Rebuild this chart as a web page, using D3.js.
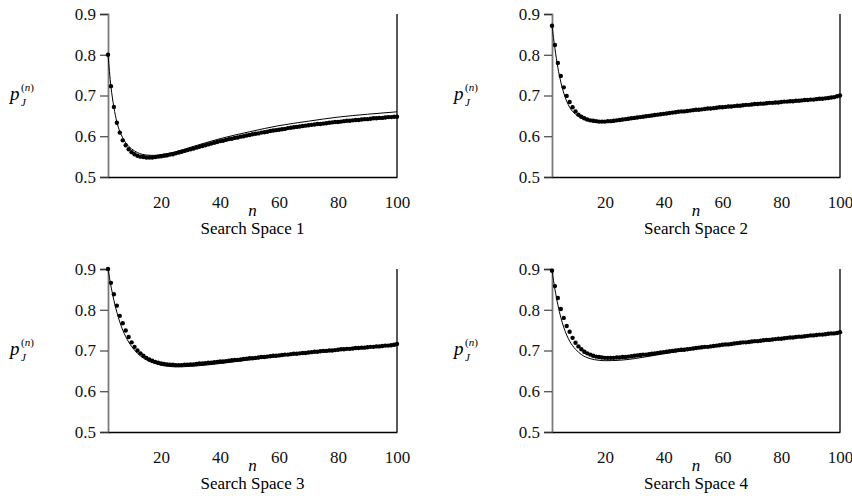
<!DOCTYPE html>
<html><head><meta charset="utf-8">
<script src="https://cdn.jsdelivr.net/npm/d3@7/dist/d3.min.js"></script>
<style>body{margin:0;background:#fff}svg{display:block}</style>
</head><body><svg id="c" width="852" height="496"></svg>
<script>
// n values: dots are drawn for n = 2..100
const nStart = 2, nEnd = 100;
const xTicks = [20, 40, 60, 80, 100];
const yTicks = [0.5, 0.6, 0.7, 0.8, 0.9];
const titles = ["Search Space 1", "Search Space 2", "Search Space 3", "Search Space 4"];

// simulated (dots), n = 2..100
const dots1 = [0.800,0.723,0.672,0.633,0.609,0.590,0.578,0.568,0.561,0.556,0.552,0.550,0.549,0.548,0.548,0.548,0.549,0.550,0.551,
 0.552,0.553,0.555,0.556,0.558,0.560,0.562,0.564,0.566,0.568,
 0.570,0.572,0.574,0.576,0.578,0.580,0.582,0.584,0.586,0.588,
 0.589,0.591,0.593,0.594,0.596,0.597,0.599,0.600,0.602,0.603,
 0.605,0.606,0.607,0.609,0.610,0.611,0.613,0.614,0.615,0.616,
 0.617,0.618,0.620,0.621,0.622,0.623,0.624,0.625,0.626,0.627,
 0.628,0.629,0.630,0.630,0.631,0.632,0.633,0.634,0.635,0.635,
 0.636,0.637,0.638,0.638,0.639,0.640,0.640,0.641,0.642,0.642,
 0.643,0.644,0.644,0.645,0.645,0.646,0.647,0.647,0.648,0.648];
const dots2 = [0.871,0.824,0.780,0.748,0.720,0.699,0.684,0.671,0.661,0.653,
 0.648,0.644,0.641,0.639,0.638,0.637,0.636,0.636,0.636,
 0.637,0.637,0.638,0.639,0.640,0.641,0.642,0.643,0.644,0.645,
 0.646,0.647,0.648,0.649,0.650,0.651,0.652,0.653,0.654,0.655,
 0.656,0.657,0.658,0.659,0.660,0.661,0.661,0.662,0.663,0.664,
 0.665,0.665,0.666,0.667,0.668,0.668,0.669,0.670,0.671,0.671,
 0.672,0.673,0.673,0.674,0.675,0.675,0.676,0.677,0.677,0.678,
 0.679,0.679,0.680,0.680,0.681,0.682,0.682,0.683,0.683,0.684,
 0.685,0.685,0.686,0.686,0.687,0.687,0.688,0.689,0.689,0.690,
 0.690,0.691,0.692,0.692,0.693,0.694,0.695,0.696,0.698,0.700];
const dots3 = [0.900,0.866,0.838,0.810,0.785,0.767,0.749,0.733,0.720,
 0.709,0.700,0.693,0.687,0.682,0.678,0.675,0.672,0.670,0.668,
 0.667,0.666,0.665,0.665,0.664,0.664,0.664,0.665,0.665,0.666,
 0.666,0.667,0.668,0.668,0.669,0.670,0.670,0.671,0.672,0.673,
 0.673,0.674,0.675,0.676,0.677,0.677,0.678,0.679,0.680,0.681,
 0.681,0.682,0.683,0.684,0.684,0.685,0.686,0.687,0.687,0.688,
 0.689,0.690,0.690,0.691,0.692,0.692,0.693,0.694,0.694,0.695,
 0.696,0.697,0.697,0.698,0.699,0.699,0.700,0.700,0.701,0.702,
 0.703,0.703,0.704,0.704,0.705,0.706,0.706,0.707,0.707,0.708,
 0.709,0.709,0.710,0.710,0.711,0.712,0.712,0.713,0.714,0.716];
const dots4 = [0.896,0.858,0.829,0.802,0.780,0.760,0.746,0.731,0.719,
 0.710,0.703,0.697,0.693,0.690,0.687,0.685,0.684,0.683,0.682,
 0.682,0.682,0.682,0.683,0.683,0.684,0.684,0.685,0.686,0.687,
 0.688,0.689,0.690,0.690,0.691,0.692,0.693,0.694,0.695,0.696,
 0.697,0.698,0.699,0.700,0.701,0.702,0.702,0.703,0.704,0.705,
 0.706,0.707,0.708,0.709,0.709,0.710,0.711,0.712,0.713,0.714,
 0.715,0.715,0.716,0.717,0.718,0.719,0.720,0.720,0.721,0.722,
 0.723,0.723,0.724,0.725,0.726,0.726,0.727,0.728,0.729,0.729,
 0.730,0.731,0.732,0.732,0.733,0.734,0.734,0.735,0.736,0.737,
 0.737,0.738,0.739,0.739,0.740,0.741,0.742,0.742,0.743,0.745];

// analytical curves (solid lines)
const lineN  = [2,3,4,5,6,7,8,10,12,15,18,20,25,30,40,50,60,70,80,90,100];
const line1 = [0.800,0.722,0.671,0.635,0.612,0.596,0.584,0.569,0.560,0.554,0.553,0.555,0.562,0.573,0.594,0.611,0.626,0.637,0.647,0.654,0.660];
const line2 = [0.871,0.815,0.768,0.733,0.706,0.686,0.671,0.654,0.644,0.637,0.634,0.634,0.637,0.643,0.654,0.663,0.671,0.678,0.685,0.692,0.699];
const line3 = [0.900,0.858,0.823,0.794,0.770,0.750,0.734,0.710,0.693,0.677,0.668,0.664,0.660,0.661,0.668,0.677,0.686,0.694,0.701,0.707,0.712];
const line4 = [0.896,0.850,0.812,0.781,0.757,0.738,0.723,0.703,0.690,0.680,0.676,0.675,0.676,0.680,0.692,0.703,0.713,0.722,0.730,0.737,0.743];

const dotsAll = [dots1, dots2, dots3, dots4];
const linesAll = [line1, line2, line3, line4];

const svg = d3.select("#c");
const FONT = "'Liberation Serif','Times New Roman',serif";
const panels = [
  {x0:108, x1:397, yTop:14, yBot:177},
  {x0:552, x1:840, yTop:14, yBot:177},
  {x0:108, x1:397, yTop:269, yBot:432},
  {x0:552, x1:840, yTop:269, yBot:432}
];

panels.forEach((p, i) => {
  const x = d3.scaleLinear().domain([nStart, nEnd]).range([p.x0, p.x1]);
  const y = d3.scaleLinear().domain([0.5, 0.9]).range([p.yBot, p.yTop]);
  const g = svg.append("g");

  // y axis
  const ya = g.append("g").attr("transform", `translate(${p.x0},0)`)
    .call(d3.axisLeft(y).tickValues(yTicks).tickFormat(d3.format(".1f")).tickSize(8).tickPadding(4));
  ya.select(".domain").attr("stroke", "#7a7a7a").attr("stroke-width", 1.8);
  ya.selectAll(".tick line").attr("stroke", "#333").attr("stroke-width", 1.1);
  ya.selectAll("text").attr("font-family", FONT).attr("font-size", 17).attr("fill", "#111");

  // x axis
  const xa = g.append("g").attr("transform", `translate(0,${p.yBot})`)
    .call(d3.axisBottom(x).tickValues(xTicks).tickSize(0).tickPadding(19));
  xa.select(".domain").attr("stroke", "#000").attr("stroke-width", 1.3);
  xa.selectAll("text").attr("font-family", FONT).attr("font-size", 17).attr("fill", "#111");

  // right border
  g.append("line").attr("x1", p.x1).attr("x2", p.x1).attr("y1", y(0.9)).attr("y2", y(0.5))
    .attr("stroke", "#000").attr("stroke-width", 1.3);

  // line
  const ld = lineN.map((n, k) => [n, linesAll[i][k]]);
  g.append("path").datum(ld)
    .attr("d", d3.line().x(d => x(d[0])).y(d => y(d[1])).curve(d3.curveMonotoneX))
    .attr("fill", "none").attr("stroke", "#000").attr("stroke-width", 1);

  // dots
  g.append("g").selectAll("circle").data(dotsAll[i]).join("circle")
    .attr("cx", (d, k) => x(nStart + k)).attr("cy", d => y(d)).attr("r", 2.2).attr("fill", "#000");

  // x label & title
  const cx = (p.x0 + p.x1) / 2;
  g.append("text").attr("x", cx).attr("y", p.yBot + 39).attr("text-anchor", "middle")
    .attr("font-family", FONT).attr("font-style", "italic").attr("font-size", 17).text("n");
  g.append("text").attr("x", cx).attr("y", p.yBot + 57).attr("text-anchor", "middle")
    .attr("font-family", FONT).attr("font-size", 17).text(titles[i]);

  // y label p_J^(n): stacked subscript / superscript
  const ly = y(0.7) + 4;
  const lx = p.x0 - 98;
  g.append("text").attr("x", lx).attr("y", ly).attr("font-family", FONT)
    .attr("font-style", "italic").attr("font-size", 19).text("p");
  g.append("text").attr("x", lx + 11).attr("y", ly + 6).attr("font-family", FONT)
    .attr("font-style", "italic").attr("font-size", 11).text("J");
  const sup = g.append("text").attr("x", lx + 11).attr("y", ly - 9).attr("font-family", FONT).attr("font-size", 11);
  sup.append("tspan").text("(");
  sup.append("tspan").attr("font-style", "italic").text("n");
  sup.append("tspan").text(")");
});
</script></body></html>
